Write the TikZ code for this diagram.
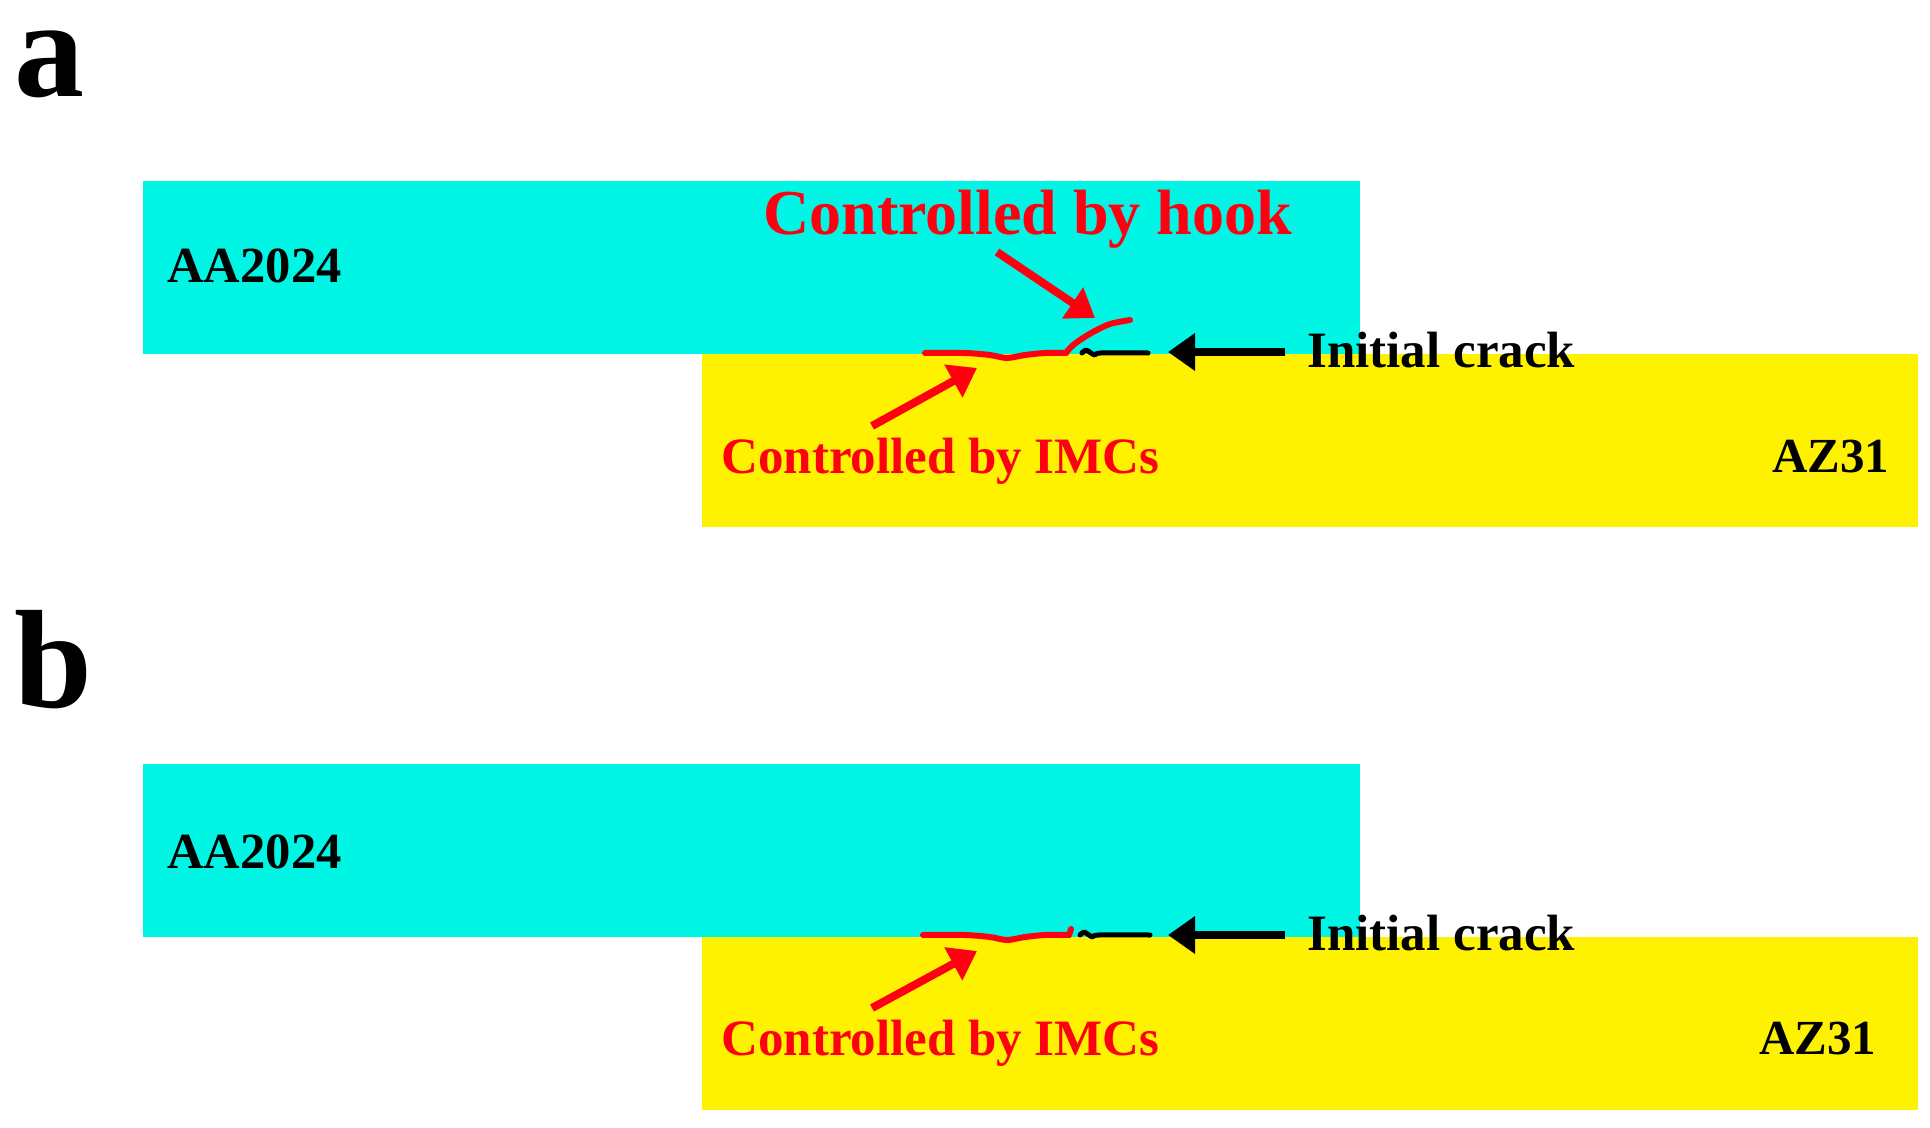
\documentclass[tikz,border=0pt]{standalone}
\usepackage{fontspec}
\setmainfont{Liberation Serif}
\usetikzlibrary{arrows.meta}
\definecolor{alcyan}{RGB}{0,246,228}
\definecolor{mgyellow}{RGB}{255,242,0}
\definecolor{crackred}{RGB}{255,0,16}
\tikzset{
  lbl/.style={inner sep=0pt, anchor=base west, font=\fontsize{#1}{#1}\selectfont\bfseries},
  redlbl/.style={lbl=#1, text=crackred},
  fatarrow/.style={line width=4pt, -{Triangle[length=13.5pt,width=18pt]}},
  redcrack/.style={crackred, line width=3pt, line cap=round, line join=round},
  blackcrack/.style={black, line width=2.5pt, line cap=round, line join=round},
}
\begin{document}
\begin{tikzpicture}[x=0.5pt,y=-0.5pt]
\useasboundingbox (0,0) rectangle (1930,1128);

% ---------- panel a ----------
\fill[alcyan] (143,181) rectangle (1360,354);
\fill[mgyellow] (702,354) rectangle (1918,527);
\node[lbl=70pt] (la) at (14,97) {a};
\node[lbl=25.3pt] (aaA) at (167,283) {AA2024};
\node[lbl=24.5pt] (azA) at (1772,472) {AZ31};
\node[redlbl=32pt] (hookA) at (763,235) {Controlled by hook};
\node[redlbl=25.5pt] (imcA) at (721,473) {Controlled by IMCs};
\node[lbl=25.5pt] (initA) at (1307,367) {Initial crack};

\draw[redcrack] plot[smooth] coordinates {(925,353) (965,353) (990,355) (1007,358) (1025,355) (1045,353) (1066,353)};
\draw[redcrack] plot[smooth] coordinates {(1066,353) (1071,347) (1080,340) (1093,332) (1110,324) (1130,320)};
\draw[blackcrack] plot[smooth] coordinates {(1082,353) (1086,350) (1091,353) (1095,355) (1101,353) (1148,353)};

\coordinate (hookS) at (997,252);
\coordinate (hookT) at (1095,318);
\coordinate (imcSA) at (872,426);
\coordinate (imcTA) at (977,368);
\coordinate (initSA) at (1285,352);
\coordinate (initTA) at (1168,352);
\draw[fatarrow, crackred] (hookS) -- (hookT);
\draw[fatarrow, crackred] (imcSA) -- (imcTA);
\draw[fatarrow, black] (initSA) -- (initTA);

% ---------- panel b ----------
\fill[alcyan] (143,764) rectangle (1360,937);
\fill[mgyellow] (702,937) rectangle (1918,1110);
\node[lbl=70pt] (lb) at (14,707) {b};
\node[lbl=25.3pt] (aaB) at (167,868) {AA2024};
\node[lbl=24.5pt] (azB) at (1759,1054) {AZ31};
\node[redlbl=25.5pt] (imcB) at (721,1055) {Controlled by IMCs};
\node[lbl=25.5pt] (initB) at (1307,950) {Initial crack};

\draw[redcrack] plot[smooth] coordinates {(923,935) (965,935) (990,937) (1007,940) (1025,937) (1045,935) (1069,935)};
\draw[redcrack] (1069,935) -- (1071,929);
\draw[blackcrack] plot[smooth] coordinates {(1080,935) (1084,932) (1089,935) (1093,937) (1099,935) (1150,935)};

\coordinate (imcSB) at (872,1008);
\coordinate (imcTB) at (977,951);
\coordinate (initSB) at (1285,935);
\coordinate (initTB) at (1168,935);
\draw[fatarrow, crackred] (imcSB) -- (imcTB);
\draw[fatarrow, black] (initSB) -- (initTB);
\end{tikzpicture}
\end{document}
